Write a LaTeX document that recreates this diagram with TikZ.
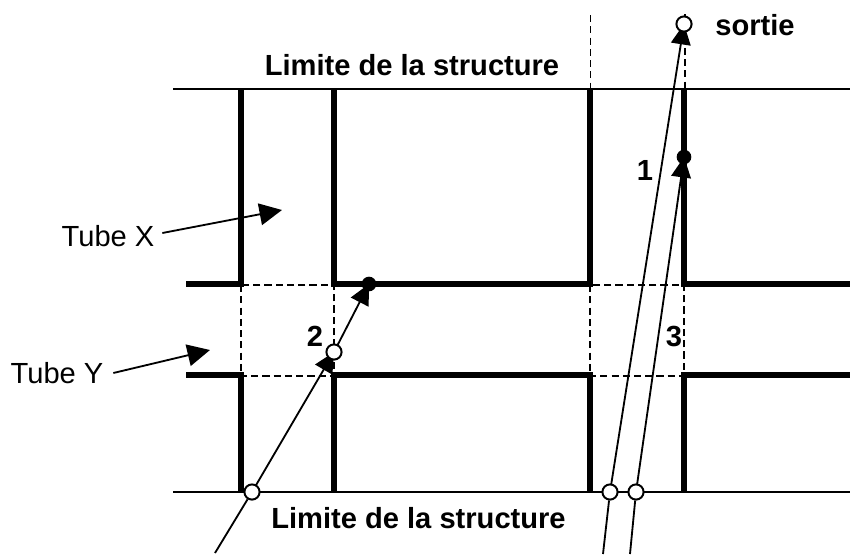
\documentclass[tikz,border=0pt]{standalone}
\usepackage{fontspec}
\setmainfont{Liberation Sans}
\usetikzlibrary{arrows.meta, positioning, backgrounds}

\begin{document}
\begin{tikzpicture}[
    x=0.025cm, y=-0.025cm,
    every node/.style={align=center, font=\fontsize{20.7}{24}\selectfont},
    wall/.style={line width=4.5pt, miter limit=10},
    limit/.style={line width=1.4pt},
    hidden/.style={line width=1.2pt, dash pattern=on 5pt off 3pt},
    ray/.style={line width=1.3pt},
    arrow/.style={-{Triangle[length=14.5pt, width=14pt]}, line width=1.3pt},
    pointer/.style={-{Triangle[length=16pt, width=15.5pt]}, line width=1.3pt},
    point/.style={draw, circle, fill=white, line width=1.4pt, inner sep=0pt, minimum size=10.8pt},
    hit/.style={circle, fill=black, inner sep=0pt, minimum size=10.4pt},
    title/.style={font=\fontsize{20.7}{24}\selectfont\bfseries},
]
\useasboundingbox (0,0) rectangle (850,554);
% Points
\coordinate (start2) at (215,553);
\coordinate (start1) at (603,554);
\coordinate (start3) at (630,554);
\node[point] (in2) at (252,492) {};
\node[point] (in1) at (610,492) {};
\node[point] (in3) at (636,492) {};
\node[point] (mid2) at (334,352) {};
\node[point] (out) at (684,24) {};
\node[hit] (hit2) at (369,284) {};
\node[hit] (hit3) at (684,157) {};
% Labels
\node[title] (top) at (412,65) {Limite de la structure};
\node[title] (bottom) at (418.5,518) {Limite de la structure};
\node[title] (exit) at (755,25) {sortie};
\node[title] (num1) at (645,170) {1};
\node[title] (num2) at (315,336) {2};
\node[title] (num3) at (674,336) {3};
\node (tubex) at (108,236) {Tube X};
\node (tubey) at (57,373) {Tube Y};
\coordinate (aimx) at (282,210);
\coordinate (aimy) at (210,350);
\begin{scope}[on background layer]
% Limits of the structure
\draw[limit] (173,89) -- (850,89);
\draw[limit] (173,492) -- (850,492);
% Tube walls, upper part
\draw[wall] (186,284) -- (241,284) -- (241,89);
\draw[wall] (334,89) -- (334,284) -- (590,284) -- (590,89);
\draw[wall] (684,89) -- (684,284) -- (850,284);
% Tube walls, lower part
\draw[wall] (186,375) -- (241,375) -- (241,492);
\draw[wall] (334,492) -- (334,375) -- (590,375) -- (590,492);
\draw[wall] (684,492) -- (684,375) -- (850,375);
% Crossings
\draw[hidden] (241,285) rectangle (334,376);
\draw[hidden] (590,285) rectangle (684,376);
\draw[hidden] (590.5,15) -- (590.5,89);
\draw[hidden] (685,14) -- (685,89);
% Rays
\draw[ray] (start2) -- (in2);
\draw[ray] (start1) -- (in1);
\draw[ray] (start3) -- (in3);
\draw[arrow] (in2.center) -- (mid2.center);
\draw[arrow] (mid2.center) -- (hit2.center);
\draw[arrow] (in1.center) -- (out.center);
\draw[arrow] (in3.center) -- (hit3.center);
\end{scope}
% Tube arrows
\draw[pointer] ([shift={(3,-3)}]tubex.east) -- (aimx);
\draw[pointer] ([shift={(5,0)}]tubey.east) -- (aimy);
\end{tikzpicture}
\end{document}
